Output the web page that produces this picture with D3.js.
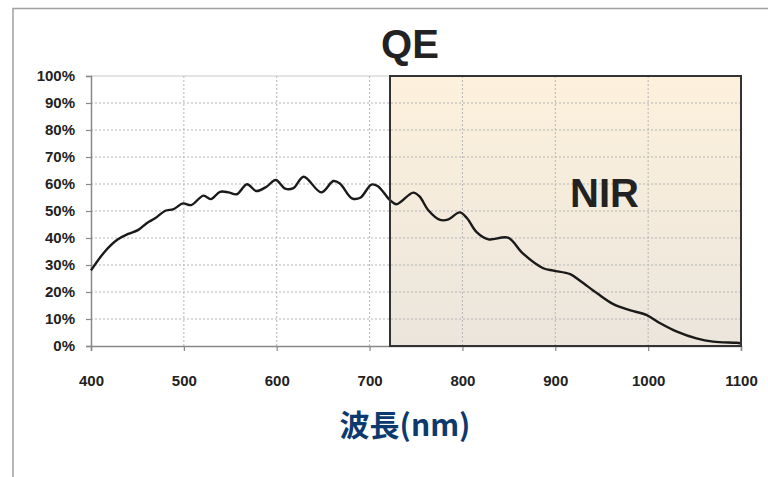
<!DOCTYPE html>
<html>
<head>
<meta charset="utf-8">
<script src="https://cdn.jsdelivr.net/npm/d3@7"></script>
<style>
  body { margin: 0; background: #fff; }
  svg { display: block; }
</style>
</head>
<body>
<svg id="chart" width="768" height="477"></svg>
<script>
// wavelength (nm) and quantum efficiency (%)
var wavelength = [400, 415, 429, 440, 451, 460, 469, 480, 489, 499, 508, 521, 529, 539, 548, 557, 568, 578, 589, 599,
  609, 618, 629, 648, 661, 668, 681, 690, 702, 709, 722, 729, 747, 754, 763, 776, 785, 797, 805, 815,
  828, 849, 865, 887, 898, 916, 927, 945, 962, 980, 998, 1013, 1031, 1052, 1070, 1095, 1100];
var qe = [28, 35, 39.5, 41.5, 43, 45.5, 47.3, 50.1, 50.7, 52.8, 52.2, 55.7, 54.4, 57.1, 56.9, 56.2, 59.9, 57.4, 59.0, 61.5,
  58.3, 58.5, 62.7, 56.9, 61.1, 60.2, 54.7, 54.9, 59.8, 59.2, 54, 52.5, 56.8, 55.3, 50.4, 46.7, 46.9, 49.5, 47.3, 42.3,
  39.5, 40.1, 34.3, 28.8, 27.9, 26.6, 24.1, 19.5, 15.6, 13.3, 11.5, 8.4, 5.3, 2.8, 1.6, 1.2, 1.0];
var xTicks = [400, 500, 600, 700, 800, 900, 1000, 1100];
var yTicks = [0, 10, 20, 30, 40, 50, 60, 70, 80, 90, 100];
var nirRange = [722, 1100];

var margins = { left: 91, right: 27, top: 76, bottom: 131 };
var width = 768 - margins.left - margins.right;
var height = 477 - margins.top - margins.bottom;

var svg = d3.select("#chart");

// outer frame
svg.append("path")
  .attr("d", "M13,477 V8.5 H768")
  .attr("fill", "none")
  .attr("stroke", "#a0a0a0")
  .attr("stroke-width", 1.5);

var defs = svg.append("defs");
var grad = defs.append("linearGradient")
  .attr("id", "nirFill")
  .attr("x1", 0).attr("y1", 0).attr("x2", 0).attr("y2", 1);
grad.append("stop").attr("offset", "0%").attr("stop-color", "#fdf1dc");
grad.append("stop").attr("offset", "100%").attr("stop-color", "#ebe5dc");

var plot = svg.append("g")
  .attr("transform", "translate(" + margins.left + "," + margins.top + ")");

var x = d3.scaleLinear().domain([400, 1100]).range([0, width]);
var y = d3.scaleLinear().domain([0, 100]).range([height, 0]);

// NIR shaded region
plot.append("rect")
  .attr("x", x(nirRange[0]))
  .attr("y", 0)
  .attr("width", x(nirRange[1]) - x(nirRange[0]))
  .attr("height", height)
  .attr("fill", "url(#nirFill)");

// grid
plot.append("g").selectAll("line")
  .data(yTicks.filter(d => d > 0 && d < 100))
  .enter().append("line")
  .attr("x1", 0).attr("x2", width)
  .attr("y1", d => y(d)).attr("y2", d => y(d))
  .attr("stroke", "#b5b5b5")
  .attr("stroke-dasharray", "2,2");

plot.append("g").selectAll("line")
  .data(xTicks.filter(d => d > 400 && d < 1100))
  .enter().append("line")
  .attr("x1", d => x(d)).attr("x2", d => x(d))
  .attr("y1", 0).attr("y2", height)
  .attr("stroke", "#b5b5b5")
  .attr("stroke-dasharray", "2,2");

plot.append("line")
  .attr("x1", 0).attr("x2", width)
  .attr("y1", 0).attr("y2", 0)
  .attr("stroke", "#c8c8c8");

// axes
var yAxis = plot.append("g")
  .call(d3.axisLeft(y).tickValues(yTicks).tickSize(5).tickPadding(11).tickFormat(d => d + "%"));
var xAxis = plot.append("g")
  .attr("transform", "translate(0," + height + ")")
  .call(d3.axisBottom(x).tickValues(xTicks).tickSize(5).tickPadding(24).tickFormat(d3.format("d")));

[xAxis, yAxis].forEach(function(a) {
  a.select(".domain").attr("stroke", "#888").attr("stroke-width", 1.5);
  a.selectAll(".tick line").attr("stroke", "#888").attr("stroke-width", 1.2);
  a.selectAll("text")
    .attr("fill", "#222")
    .style("font-family", "Liberation Sans, Arial, sans-serif")
    .style("font-size", "15px")
    .style("font-weight", "bold");
});

// QE curve
var line = d3.line()
  .x(d => x(d[0]))
  .y(d => y(d[1]))
  .curve(d3.curveCatmullRom.alpha(0.5));

plot.append("path")
  .datum(d3.zip(wavelength, qe))
  .attr("fill", "none")
  .attr("stroke", "#1a1a1a")
  .attr("stroke-width", 2.4)
  .attr("stroke-linejoin", "round")
  .attr("d", line);

// NIR box border
plot.append("rect")
  .attr("x", x(nirRange[0]))
  .attr("y", 0)
  .attr("width", x(nirRange[1]) - x(nirRange[0]))
  .attr("height", height)
  .attr("fill", "none")
  .attr("stroke", "#333")
  .attr("stroke-width", 2);

plot.append("text")
  .attr("x", x(953))
  .attr("y", y(51.5))
  .attr("text-anchor", "middle")
  .attr("fill", "#222")
  .style("font-family", "Liberation Sans, Arial, sans-serif")
  .style("font-size", "40px")
  .style("font-weight", "bold")
  .text("NIR");

// title
svg.append("text")
  .attr("x", 410)
  .attr("y", 58)
  .attr("text-anchor", "middle")
  .attr("fill", "#222")
  .style("font-family", "Liberation Sans, Arial, sans-serif")
  .style("font-size", "40px")
  .style("font-weight", "bold")
  .text("QE");

// x axis title
svg.append("text")
  .attr("x", 405)
  .attr("y", 436)
  .attr("text-anchor", "middle")
  .attr("fill", "#0d3a6e")
  .style("font-family", "Noto Sans CJK JP, Liberation Sans, sans-serif")
  .style("font-size", "30px")
  .style("font-weight", "bold")
  .text("波長(nm)");
</script>
</body>
</html>
